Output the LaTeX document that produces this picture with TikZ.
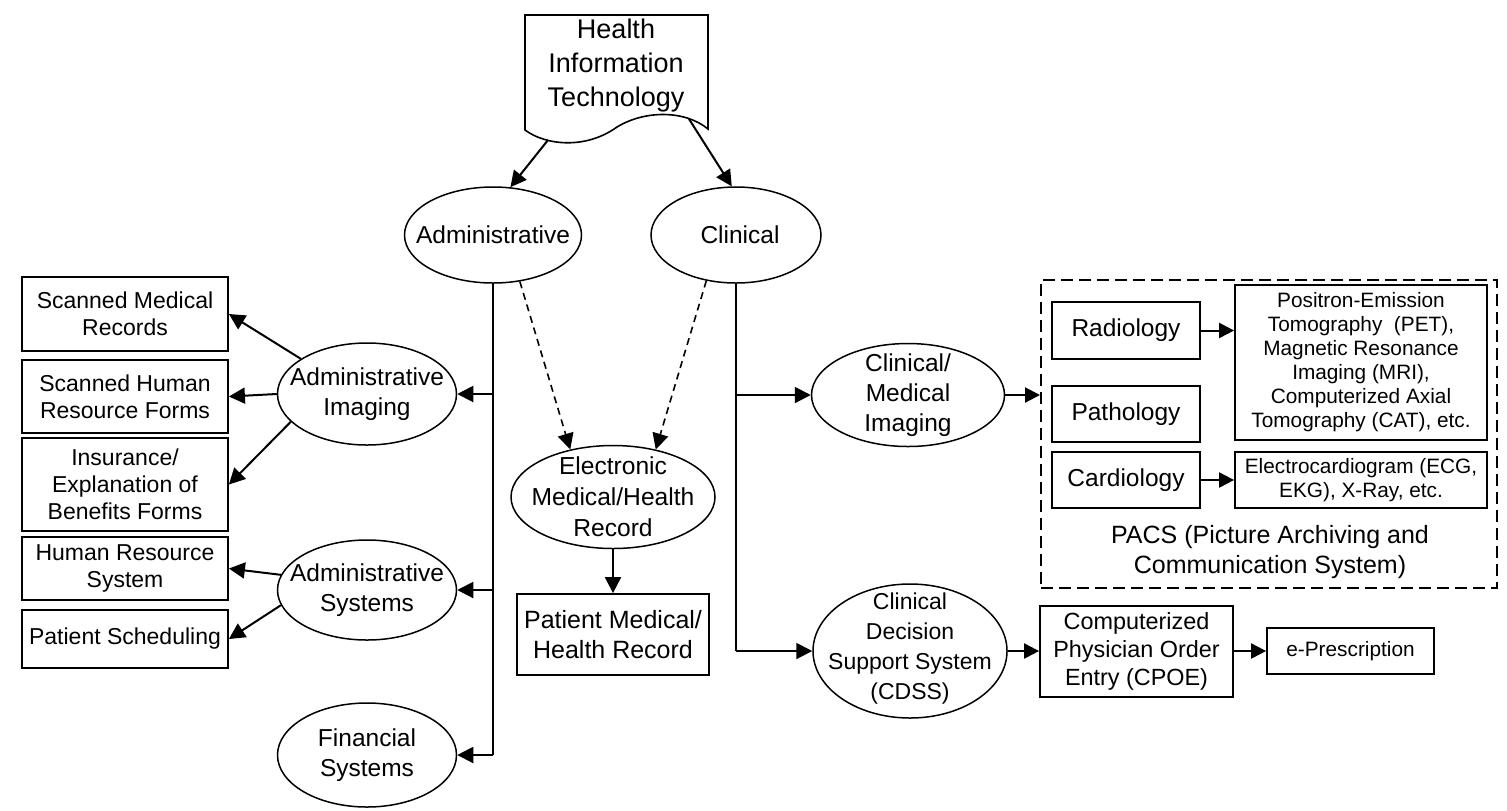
\documentclass[tikz,border=0pt]{standalone}
\usepackage{fontspec}
\setmainfont{Liberation Sans}
\usetikzlibrary{shapes.geometric,arrows.meta}
\tikzset{
  ell/.style={ellipse, draw, line width=0.75pt, inner sep=0pt},
  etext/.style={align=center, inner sep=0pt, font=\fontsize{12.25}{15}\selectfont},
  box/.style={rectangle, draw, line width=0.9pt, inner sep=0pt, align=center},
  lbox/.style={box, minimum width=103pt, font=\fontsize{11.5}{13.5}\selectfont},
  sbox/.style={box, font=\fontsize{10.4}{12}\selectfont},
  conn/.style={line width=1pt},
  arr/.style={line width=1pt, -{Triangle[length=8pt,width=8pt]}},
  sarr/.style={line width=1pt, -{Triangle[length=7.5pt,width=7.5pt]}},
  darr/.style={line width=0.8pt, dash pattern=on 3.5pt off 2.5pt, -{Triangle[length=8pt,width=8pt]}},
}
\begin{document}
\begin{tikzpicture}[x=0.5pt,y=-0.5pt]
\useasboundingbox (0,0) rectangle (1507,810);

% Health Information Technology (document shape)
\draw[line width=0.8pt] (525,15) -- (708,15) -- (708,129)
  .. controls (685,110) and (645,110) .. (617,127)
  .. controls (585,150) and (545,145) .. (525,130) -- cycle;
\node[align=center, inner sep=0pt, font=\fontsize{13.5}{17}\selectfont] (hit) at (616,66) {Health\\Information\\Technology};
\coordinate (hitL) at (548,140);
\coordinate (hitR) at (689,119);

% top ellipses
\node[ell, minimum width=88.5pt, minimum height=48pt] (admin) at (493,235) {};
\node[etext] (admint) at (admin) {Administrative};
\node[ell, minimum width=85pt, minimum height=48pt] (clin) at (736,235) {};
\node[etext] (clint) at (740,235) {Clinical};

% administrative branch
\node[ell, minimum width=89.5pt, minimum height=51pt] (admimg) at (367,394) {};
\node[etext] (admimgt) at (admimg) {Administrative\\Imaging};
\node[ell, minimum width=89.5pt, minimum height=50pt] (admsys) at (367,590) {};
\node[etext] (admsyst) at (admsys) {Administrative\\Systems};
\node[ell, minimum width=89.5pt, minimum height=52pt] (fin) at (367,755) {};
\node[etext] (fint) at (fin) {Financial\\Systems};

\node[lbox, minimum height=37pt] (smr) at (125,314) {Scanned Medical\\Records};
\node[lbox, minimum height=36.5pt] (shr) at (125,396.5) {Scanned Human\\Resource Forms};
\node[lbox, minimum height=46.5pt] (ins) at (125,484.5) {Insurance/\\Explanation of\\Benefits Forms};
\node[lbox, minimum height=31.5pt] (hrs) at (125,568.5) {Human Resource\\System};
\node[lbox, minimum height=29pt] (ps) at (125,639) {Patient Scheduling};

% EMR
\node[ell, minimum width=102pt, minimum height=51.5pt] (emr) at (613,497) {};
\node[etext, font=\fontsize{12.3}{15.5}\selectfont] (emrt) at (emr) {Electronic\\Medical/Health\\Record};
\node[box, minimum width=96pt, minimum height=40.5pt, font=\fontsize{12.5}{15}\selectfont] (pmr) at (613,634.5) {Patient Medical/\\Health Record};

% clinical branch
\node[ell, minimum width=96.5pt, minimum height=51.5pt] (cmi) at (908,395) {};
\node[etext] (cmit) at (cmi) {Clinical/\\Medical\\Imaging};
\node[ell, minimum width=97pt, minimum height=67pt] (cdss) at (910,651) {};
\node[etext, font=\fontsize{11.5}{15}\selectfont] (cdsst) at (910,649) {Clinical\\Decision\\Support System\\(CDSS)};

% PACS
\node[rectangle, draw, line width=1pt, dash pattern=on 6pt off 3pt, minimum width=228pt, minimum height=154pt, inner sep=0pt] (pacs) at (1269,434) {};
\node[align=center, inner sep=0pt, font=\fontsize{12.5}{15}\selectfont] (pacst) at (1270,552) {PACS (Picture Archiving and\\Communication System)};
\node[box, minimum width=74pt, minimum height=28.5pt, font=\fontsize{12.25}{15}\selectfont] (rad) at (1126,330.5) {Radiology};
\node[box, minimum width=74pt, minimum height=28pt, font=\fontsize{12.25}{15}\selectfont] (path) at (1126,414) {Pathology};
\node[box, minimum width=74pt, minimum height=28pt, font=\fontsize{12.25}{15}\selectfont] (card) at (1126,480) {Cardiology};
\node[sbox, minimum width=126pt, minimum height=77.5pt] (pet) at (1361,362.5) {Positron-Emission\\Tomography\ \ (PET),\\Magnetic Resonance\\Imaging (MRI),\\Computerized Axial\\Tomography (CAT), etc.};
\node[sbox, minimum width=126pt, minimum height=28pt] (ecg) at (1361,480) {Electrocardiogram (ECG,\\EKG), X-Ray, etc.};

% CPOE
\node[box, minimum width=96.5pt, minimum height=45.5pt, font=\fontsize{11.7}{14}\selectfont] (cpoe) at (1136.5,651.5) {Computerized\\Physician Order\\Entry (CPOE)};
\node[sbox, minimum width=83.5pt, minimum height=23pt] (ep) at (1350.5,651) {e-Prescription};

% connectors
\draw[arr] (hitL) -- (admin.70);
\draw[arr] (hitR) -- (clin.95);

\draw[conn] (admin.south) -- (admin.south |- fin.east);
\draw[arr] (admin.south |- admimg.east) -- (admimg.east);
\draw[arr] (admin.south |- admsys.east) -- (admsys.east);
\draw[arr] (admin.south |- fin.east) -- (fin.east);

\draw[arr] (admimg.152) -- (smr.east);
\draw[arr] (admimg.west) -- (shr.east);
\draw[arr] (admimg.200) -- (ins.east);
\draw[arr] (admsys.170) -- (hrs.east);
\draw[arr] (admsys.190) -- (ps.east);

\draw[darr] (admin.300) -- (emr.132);
\draw[darr] (clin.237) -- (emr.48);
\draw[arr] (emr.south) -- (pmr.north);

\draw[conn] (clin.south) -- (clin.south |- cdss.west);
\draw[arr] (clin.south |- cmi.west) -- (cmi.west);
\draw[arr] (clin.south |- cdss.west) -- (cdss.west);

\draw[sarr] (cmi.east) -- (pacs.west |- cmi.east);
\draw[sarr] (rad.east) -- (pet.west |- rad.east);
\draw[sarr] (card.east) -- (ecg.west);
\draw[sarr] (cdss.east) -- (cpoe.west |- cdss.east);
\draw[sarr] (cpoe.east |- ep.west) -- (ep.west);
\end{tikzpicture}
\end{document}
